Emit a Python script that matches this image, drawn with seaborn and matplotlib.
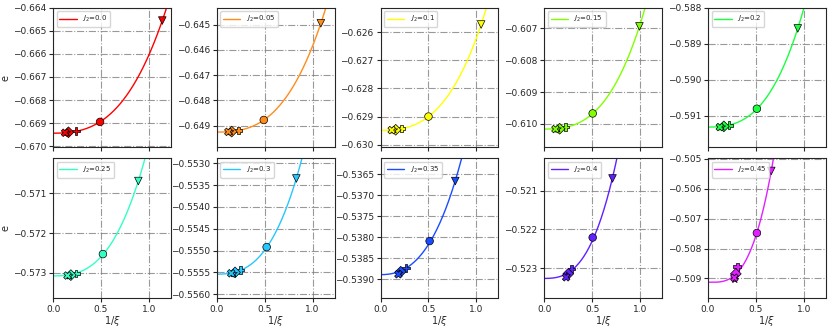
import numpy as np
import pandas as pd
import matplotlib
matplotlib.use("Agg")
import matplotlib.pyplot as plt
import seaborn as sns
from matplotlib.ticker import ScalarFormatter

# J2 values and colours of the ten panels
j2_values = [0.0, 0.05, 0.1, 0.15, 0.2, 0.25, 0.3, 0.35, 0.4, 0.45]
colors = ['#ff0000', '#ff8c1a', '#ffff00', '#80ff00', '#1aff40',
          '#33ffc4', '#26c6ff', '#1a4cff', '#6020ff', '#e020ff']

# markers, one per bond dimension (largest 1/xi first)
markers = ['v', 'o', 'P', 'D', '*', 'X']

# 1/xi and energy per site
inv_xi = [
    [1.14, 0.49, 0.24, 0.16, 0.145, 0.125],
    [1.086, 0.49, 0.224, 0.155, 0.14, 0.12],
    [1.05, 0.50, 0.22, 0.158, 0.14, 0.116],
    [0.993, 0.505, 0.22, 0.16, 0.14, 0.116],
    [0.937, 0.51, 0.218, 0.165, 0.145, 0.123],
    [0.89, 0.52, 0.237, 0.185, 0.17, 0.15],
    [0.83, 0.52, 0.248, 0.19, 0.175, 0.15],
    [0.78, 0.512, 0.267, 0.21, 0.195, 0.186],
    [0.712, 0.505, 0.284, 0.25, 0.235, 0.228],
    [0.66, 0.51, 0.305, 0.29, 0.28, 0.275],
]
energy = [
    [-0.66455, -0.66895, -0.66935, -0.66940, -0.66942, -0.66942],
    [-0.64495, -0.64878, -0.64920, -0.64924, -0.64925, -0.64925],
    [-0.62573, -0.62900, -0.62943, -0.62947, -0.62948, -0.62948],
    [-0.60694, -0.60967, -0.61010, -0.61015, -0.61016, -0.61016],
    [-0.58857, -0.59080, -0.59126, -0.59129, -0.59131, -0.59131],
    [-0.57069, -0.57253, -0.57302, -0.57306, -0.57308, -0.57307],
    [-0.55335, -0.55492, -0.55545, -0.55550, -0.55553, -0.55552],
    [-0.53666, -0.53809, -0.53873, -0.53882, -0.53886, -0.53888],
    [-0.52068, -0.52221, -0.52303, -0.52315, -0.52320, -0.52324],
    [-0.50540, -0.50748, -0.50861, -0.50885, -0.50904, -0.50898],
]
# extrapolated energy at 1/xi = 0 (where the fit curve starts)
e_inf = [-0.66944, -0.64926, -0.62949, -0.61016, -0.59131,
         -0.57308, -0.55554, -0.53889, -0.52327, -0.50913]

# y ranges of the panels
ylims = [(-0.67005, -0.664), (-0.64986, -0.64434), (-0.63009, -0.62514),
         (-0.61073, -0.60636), (-0.59187, -0.588), (-0.57363, -0.57012),
         (-0.55608, -0.55289), (-0.53944, -0.53612), (-0.52377, -0.52016),
         (-0.50965, -0.50498)]

sns.set_style("ticks")
plt.rcParams['font.family'] = ['DejaVu Sans']
plt.rcParams['xtick.labelsize'] = 6.5
plt.rcParams['ytick.labelsize'] = 6.5

fig, axes = plt.subplots(2, 5, figsize=(8.3, 3.29), dpi=100, sharex=True)
fig.subplots_adjust(left=0.064, right=0.995, top=0.976, bottom=0.095,
                    wspace=0.39, hspace=0.08)

xfit = np.linspace(0, 1.3, 300)

for i, ax in enumerate(axes.flat):
    x = np.array(inv_xi[i])
    e = np.array(energy[i])
    # fit e - e_inf = a x^2 + b x^3
    A = np.vstack([x**2, x**3]).T
    a, b = np.linalg.lstsq(A, e - e_inf[i], rcond=None)[0]
    efit = e_inf[i] + a * xfit**2 + b * xfit**3

    sns.lineplot(x=xfit, y=efit, ax=ax, color=colors[i], lw=1,
                 label=f'$J_2$={j2_values[i]}')
    df = pd.DataFrame({'x': x, 'e': e, 'm': markers})
    sns.scatterplot(data=df, x='x', y='e', style='m', markers=dict(zip(markers, markers)),
                    color=colors[i], edgecolor='k', linewidth=0.5, s=30,
                    ax=ax, legend=False, zorder=3)

    ax.set_xlim(0, 1.23)
    ax.set_ylim(*ylims[i])
    ax.set_xticks([0.0, 0.5, 1.0])
    ax.yaxis.set_major_formatter(ScalarFormatter(useOffset=False))
    ax.grid(True, ls='-.', color='gray', lw=0.8, alpha=0.8)
    ax.set_xlabel('1/$\\xi$' if i >= 5 else '', fontsize=7, labelpad=0)
    ax.set_ylabel('e' if i % 5 == 0 else '', fontsize=7, labelpad=2)
    ax.legend(loc='upper left', fontsize=5, handlelength=2.5)
    ax.tick_params(length=3, width=0.8, pad=2)

fig.savefig('out.png', dpi=100)
